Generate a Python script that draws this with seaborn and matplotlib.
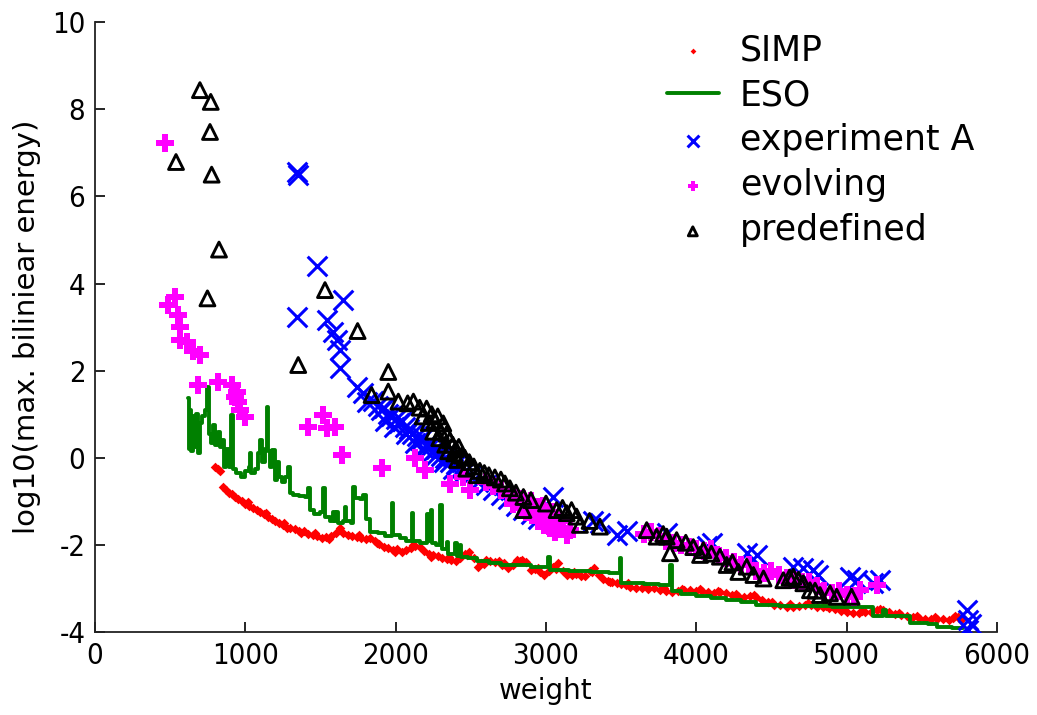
import matplotlib
matplotlib.use("Agg")
import matplotlib.pyplot as plt
import seaborn as sns
import pandas as pd

# ---------------- data ----------------
simp_x = [800, 815, 830, 850, 870, 890, 910, 930, 950, 975, 1000, 1025, 1050, 1075, 1100,
          1125, 1150, 1175, 1200, 1225, 1250, 1275, 1300, 1330, 1360, 1390, 1420, 1450, 1480,
          1510, 1540, 1570, 1600, 1630, 1650, 1680, 1710, 1740, 1770, 1800, 1830, 1860, 1890,
          1920, 1950, 1980, 2010, 2040, 2070, 2100, 2130, 2160, 2190, 2220, 2250, 2280, 2310,
          2340, 2370, 2400, 2430, 2460, 2490, 2520, 2545, 2570, 2600, 2630, 2660, 2690, 2720,
          2750, 2780, 2810, 2840, 2870, 2900, 2930, 2960, 2990, 3020, 3050, 3080, 3110, 3140,
          3170, 3200, 3230, 3260, 3290, 3320, 3350, 3380, 3410, 3440, 3470, 3500, 3530, 3560,
          3600, 3640, 3680, 3720, 3760, 3800, 3840, 3880, 3920, 3960, 4000, 4040, 4080, 4120,
          4160, 4200, 4240, 4280, 4320, 4360, 4400, 4440, 4480, 4520, 4560, 4600, 4640, 4680,
          4720, 4760, 4800, 4840, 4880, 4920, 4960, 5000, 5040, 5080, 5120, 5160, 5200, 5240,
          5280, 5320, 5360, 5400, 5440, 5480, 5520, 5560, 5600, 5640, 5680, 5720, 5740, 5760,
          1015, 1140, 1260, 1370, 1465, 1555, 1755, 1875, 1995, 2115, 2235, 2355, 2475, 2585,
          2705, 2825, 2945, 3065, 3185, 3305, 3425, 3545, 3665, 3785, 3905, 4025, 4145, 4265,
          4385, 4505, 4625, 4745, 4865, 4985, 5105, 5225, 5345, 5465, 5585, 5705]
simp_y = [-0.22, -0.26, -0.30, -0.68, -0.74, -0.80, -0.84, -0.90, -0.95, -1.00, -1.05, -1.10,
          -1.15, -1.20, -1.24, -1.30, -1.35, -1.40, -1.44, -1.50, -1.55, -1.60, -1.62, -1.64,
          -1.67, -1.68, -1.74, -1.78, -1.80, -1.84, -1.82, -1.80, -1.72, -1.62, -1.73, -1.78,
          -1.80, -1.82, -1.84, -1.86, -1.85, -1.90, -1.98, -2.04, -2.08, -2.12, -2.10, -2.16,
          -2.12, -2.08, -2.02, -2.05, -2.15, -2.20, -2.23, -2.25, -2.30, -2.33, -2.35, -2.36,
          -2.30, -2.20, -2.16, -2.30, -2.50, -2.42, -2.35, -2.38, -2.40, -2.38, -2.42, -2.52,
          -2.45, -2.35, -2.34, -2.40, -2.58, -2.55, -2.62, -2.68, -2.60, -2.50, -2.42, -2.60,
          -2.68, -2.70, -2.66, -2.72, -2.72, -2.60, -2.54, -2.70, -2.78, -2.82, -2.84, -2.88,
          -2.90, -2.93, -2.96, -3.00, -3.00, -3.02, -3.00, -3.04, -3.06, -3.07, -3.06, -3.03,
          -3.04, -3.06, -3.05, -3.08, -3.10, -3.09, -3.11, -3.15, -3.18, -3.20, -3.17, -3.20,
          -3.27, -3.32, -3.37, -3.38, -3.42, -3.42, -3.40, -3.37, -3.39, -3.43, -3.42, -3.44,
          -3.48, -3.52, -3.54, -3.56, -3.57, -3.55, -3.53, -3.50, -3.49, -3.55, -3.58, -3.60,
          -3.62, -3.65, -3.68, -3.69, -3.70, -3.69, -3.71, -3.72, -3.62, -3.66, -3.72,
          -1.02, -1.27, -1.50, -1.72, -1.72, -1.86, -1.77, -1.96, -2.16, -2.00, -2.27, -2.28,
          -2.24, -2.44, -2.46, -2.38, -2.54, -2.56, -2.62, -2.62, -2.86, -2.88, -2.95, -3.00,
          -3.01, -3.02, -3.06, -3.12, -3.16, -3.30, -3.36, -3.34, -3.40, -3.46, -3.52, -3.47,
          -3.56, -3.62, -3.66, -3.68]

eso_x = [621, 626, 632, 640, 650, 660, 672, 685, 700, 715, 735, 748, 758, 772, 785, 800, 815,
         830, 845, 855, 870, 890, 905, 915, 940, 970, 1000, 1025, 1031, 1040, 1065, 1085, 1098,
         1110, 1130, 1142, 1152, 1165, 1180, 1195, 1210, 1225, 1245, 1265, 1286, 1295, 1320,
         1360, 1400, 1419, 1428, 1460, 1500, 1519, 1528, 1560, 1585, 1595, 1608, 1618, 1650,
         1663, 1672, 1700, 1718, 1728, 1760, 1785, 1800, 1829, 1880, 1930, 1973, 1983, 2030,
         2070, 2106, 2116, 2160, 2210, 2220, 2232, 2242, 2270, 2295, 2305, 2339, 2349, 2395,
         2405, 2428, 2438, 2480, 2540, 2620, 2700, 2800, 2900, 3016, 3026, 3150, 3300, 3420,
         3492, 3500, 3650, 3750, 3825, 3835, 3900, 4000, 4100, 4200, 4300, 4400, 4550, 4700,
         4900, 5100, 5177, 5244, 5260, 5421, 5540, 5600, 5700, 5774]
eso_y = [1.37, 0.20, 1.10, 0.15, 0.95, 0.25, 1.00, 0.10, 0.80, 0.95, 1.10, 1.63, 0.55, 0.35,
         0.75, 0.30, 0.60, 0.25, 0.40, -0.20, 0.20, -0.20, 0.98, -0.25, -0.35, -0.45, -0.30,
         -0.20, 0.11, -0.35, -0.25, 0.10, 0.41, -0.10, 0.20, 1.17, 0.15, -0.20, 0.18, -0.50,
         -0.10, -0.45, -0.55, -0.45, -0.20, -0.80, -0.85, -0.88, -0.90, -0.70, -1.20, -1.30,
         -1.25, -0.70, -1.35, -1.45, -1.25, -1.45, -1.25, -1.50, -1.45, -1.13, -1.45, -1.50,
         -0.67, -0.93, -0.95, -0.85, -1.40, -1.70, -1.72, -1.80, -1.04, -1.78, -1.85, -1.90,
         -1.27, -1.90, -1.95, -1.30, -1.90, -1.20, -1.95, -2.00, -1.09, -2.10, -1.93, -2.20,
         -1.96, -2.25, -2.00, -2.28, -2.30, -2.38, -2.42, -2.45, -2.47, -2.50, -2.27, -2.58,
         -2.60, -2.63, -2.65, -2.30, -2.88, -2.90, -2.92, -2.46, -3.05, -3.12, -3.18, -3.22,
         -3.27, -3.32, -3.38, -3.40, -3.41, -3.42, -3.42, -3.62, -3.50, -3.62, -3.79, -3.82,
         -3.88, -3.91, -3.91]

expa_x = [1341, 1352, 1475, 1341, 1652, 1541, 1585, 1608, 1630, 1630, 1741, 1785, 1807, 1850,
          1880, 1900, 1920, 1950, 1970, 2000, 2020, 2040, 2060, 2090, 2110, 2140, 2160, 2180,
          2200, 2230, 2250, 2270, 2300, 2330, 2360, 2400, 2430, 2460, 2500, 2550, 2600, 2650,
          2700, 2750, 2800, 2850, 2900, 2950, 3050, 3315, 3359, 3470, 3536, 3803, 4068, 4102,
          4335, 4402, 4645, 4712, 4778, 4812, 5022, 5066, 5177, 5222, 5798, 5809, 5809, 5830,
          1930, 1990, 2070, 2130, 2190, 2260, 2320, 2380]
expa_y = [6.56, 6.49, 4.41, 3.24, 3.62, 3.16, 2.89, 2.70, 2.47, 2.05, 1.63, 1.48, 1.29, 1.30,
          1.20, 1.10, 1.15, 1.00, 0.95, 0.90, 0.80, 0.85, 0.70, 0.65, 0.55, 0.50, 0.40, 0.45,
          0.30, 0.25, 0.15, 0.20, 0.05, 0.00, -0.10, -0.15, -0.25, -0.30, -0.40, -0.55, -0.62,
          -0.75, -0.85, -0.95, -1.10, -1.20, -1.30, -1.40, -0.90, -1.45, -1.50, -1.77, -1.68,
          -1.72, -2.02, -1.96, -2.19, -2.23, -2.50, -2.54, -2.58, -2.69, -2.73, -2.81, -2.88,
          -2.81, -3.50, -3.72, -3.95, -3.82,
          0.85, 0.70, 0.55, 0.35, 0.20, 0.05, -0.10, -0.25]

evol_x = [466, 488, 532, 554, 565, 565, 610, 650, 698, 688, 820, 909, 930, 942, 953, 965, 998,
          1419, 1519, 1541, 1597, 1641, 1907, 2129, 2195, 2362, 2450, 2495, 2600, 2650, 2700,
          2750, 2800, 2850, 2880, 2900, 2930, 2960, 2980, 3000, 3020, 3040, 3071, 3100, 3138,
          3160, 3650, 3700, 3750, 3800, 3850, 3900, 3950, 4000, 4050, 4100, 4150, 4200, 4250,
          4300, 4350, 4400, 4450, 4500, 4550, 4600, 4650, 4700, 4750, 4800, 4850, 4900, 4950,
          5000, 5050, 5089, 5200, 2780, 2830, 2870, 2910, 2950, 2990, 3030, 3060, 3110]
evol_y = [7.22, 3.51, 3.70, 3.28, 3.01, 2.70, 2.66, 2.45, 2.35, 1.67, 1.75, 1.67, 1.40, 1.52,
          1.29, 1.10, 0.94, 0.71, 0.98, 0.68, 0.71, 0.06, -0.24, -0.01, -0.28, -0.59, -0.43,
          -0.74, -0.55, -0.65, -0.75, -0.85, -0.90, -0.95, -1.05, -1.00, -1.15, -1.20, -1.10,
          -1.30, -1.40, -1.25, -1.51, -1.45, -1.77, -1.65, -1.75, -1.70, -1.80, -1.90, -1.95,
          -2.00, -2.05, -2.10, -2.15, -2.10, -2.25, -2.30, -2.40, -2.45, -2.45, -2.60, -2.65,
          -2.60, -2.70, -2.75, -2.80, -2.85, -2.85, -2.95, -3.05, -3.10, -3.05, -3.15, -3.20,
          -3.04, -2.92, -1.05, -1.15, -1.25, -1.30, -1.45, -1.55, -1.62, -1.70, -1.60]

pred_x = [698, 770, 765, 539, 776, 825, 748, 1530, 1747, 1352, 1951, 1840, 1951, 2018, 2080,
          2118, 2160, 2206, 2240, 2260, 2280, 2317, 2300, 2340, 2360, 2380, 2400, 2420, 2440,
          2460, 2490, 2520, 2560, 2590, 2620, 2660, 2700, 2727, 2760, 2800, 2850, 2900, 2850,
          3000, 3071, 3110, 3138, 3170, 3204, 3226, 3290, 3359, 3670, 3736, 3780, 3803, 3825,
          3869, 3930, 3980, 4025, 4047, 4100, 4157, 4202, 4240, 4280, 4335, 4380, 4447, 4579,
          4620, 4645, 4680, 4712, 4756, 4790, 4823, 4889, 4934, 5033,
          2180, 2220, 2250, 2290, 2330, 2350, 2390, 2410, 2470, 2540]
pred_y = [8.44, 8.17, 7.48, 6.79, 6.50, 4.78, 3.66, 3.85, 2.91, 2.13, 1.97, 1.44, 1.52, 1.29,
          1.25, 1.29, 1.15, 1.13, 1.00, 0.85, 0.95, 0.79, 0.60, 0.55, 0.40, 0.30, 0.20, 0.25,
          0.05, 0.00, -0.10, -0.20, -0.30, -0.35, -0.40, -0.45, -0.50, -0.59, -0.70, -0.80,
          -0.90, -0.97, -1.20, -1.05, -1.20, -1.15, -1.27, -1.20, -1.35, -1.54, -1.45, -1.58,
          -1.66, -1.81, -1.75, -1.81, -2.19, -1.89, -1.95, -2.05, -2.23, -2.12, -2.20, -2.27,
          -2.46, -2.40, -2.62, -2.50, -2.69, -2.77, -2.81, -2.75, -2.73, -2.80, -2.88, -3.04,
          -3.05, -3.15, -3.11, -3.19, -3.19,
          0.95, 0.80, 0.60, 0.45, 0.30, 0.15, 0.10, -0.05, -0.25, -0.40]

x_ticks = [0, 1000, 2000, 3000, 4000, 5000, 6000]
y_ticks = [-4, -2, 0, 2, 4, 6, 8, 10]

# ---------------- figure ----------------
sns.set_theme(style="ticks")
plt.rcParams["font.family"] = ["DejaVu Sans"]
plt.rcParams["text.color"] = "black"
plt.rcParams["axes.labelcolor"] = "black"
plt.rcParams["xtick.color"] = "black"
plt.rcParams["ytick.color"] = "black"

fig = plt.figure(figsize=(10.37, 7.15), dpi=100)
ax = fig.add_axes([0.0916, 0.116, 0.8698, 0.853])

simp = pd.DataFrame({"x": simp_x, "y": simp_y})
eso = pd.DataFrame({"x": eso_x, "y": eso_y})
expa = pd.DataFrame({"x": expa_x, "y": expa_y})
evol = pd.DataFrame({"x": evol_x, "y": evol_y})
pred = pd.DataFrame({"x": pred_x, "y": pred_y})

sns.scatterplot(data=simp, x="x", y="y", ax=ax, color="#ff0000", marker="D", s=24,
                linewidth=0, label="SIMP", zorder=2)
sns.lineplot(data=eso, x="x", y="y", ax=ax, color="#008000", linewidth=2.8,
             sort=False, estimator=None, drawstyle="steps-post", label="ESO", zorder=3)
sns.scatterplot(data=expa, x="x", y="y", ax=ax, color="#0000ff", marker="x", s=200,
                linewidth=2.2, label="experiment A", zorder=4)
sns.scatterplot(data=evol, x="x", y="y", ax=ax, color="#ff00ff", marker="P", s=150,
                linewidth=0, label="evolving", zorder=5)
sns.scatterplot(data=pred, x="x", y="y", ax=ax, marker="^", s=115, facecolor="none",
                edgecolor="black", linewidth=2.1, label="predefined", zorder=6)

ax.set_xlim(0, 6000)
ax.set_ylim(-4, 10)
ax.set_xticks(x_ticks)
ax.set_yticks(y_ticks)
ax.set_xticklabels([str(v) for v in x_ticks], fontsize=21, fontstretch="condensed")
ax.set_yticklabels([str(v) for v in y_ticks], fontsize=21, fontstretch="condensed")
ax.tick_params(direction="in", length=7, width=1.2, colors="black", pad=7)
ax.set_xlabel("weight", fontsize=20, labelpad=5)
ax.set_ylabel("log10(max. biliniear energy)", fontsize=21, labelpad=8)

sns.despine(ax=ax)
for side in ["left", "bottom"]:
    ax.spines[side].set_color("#222222")
    ax.spines[side].set_linewidth(1.3)

leg = ax.legend(loc="upper right", bbox_to_anchor=(0.99, 1.005), frameon=False,
                fontsize=25, markerscale=0.6, labelspacing=0.32, handlelength=1.5,
                handletextpad=0.6, borderaxespad=0.0)
for t in leg.get_texts():
    t.set_color("black")

fig.savefig("out.png", dpi=100)
